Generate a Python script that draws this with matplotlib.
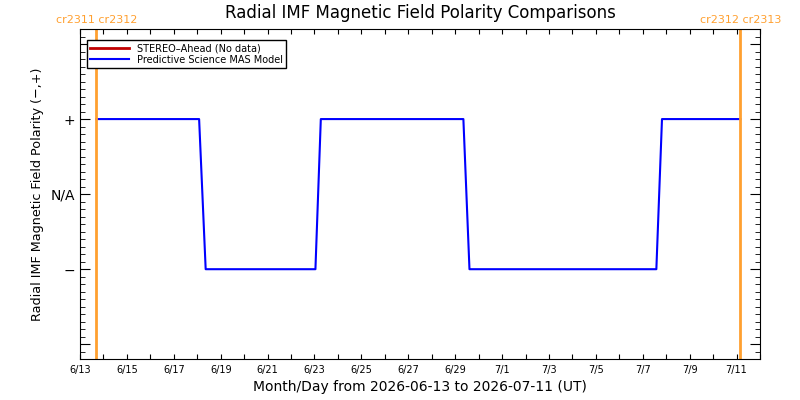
import numpy as np
import matplotlib
matplotlib.use('Agg')
import matplotlib.pyplot as plt
import matplotlib.dates as mdates
from datetime import datetime

# Predictive Science MAS model polarity (+1 / -1)
mas_times = ['2026-06-13 16:48', '2026-06-18 01:55', '2026-06-18 08:38',
             '2026-06-23 00:58', '2026-06-23 06:29', '2026-06-29 08:24',
             '2026-06-29 14:38', '2026-07-07 13:55', '2026-07-07 19:41',
             '2026-07-11 03:50']
mas_polarity = [1, 1, -1, -1, 1, 1, -1, -1, 1, 1]

# Carrington rotation boundaries
cr_times = ['2026-06-13 16:48', '2026-07-11 03:50']
cr_labels = ['cr2311 cr2312', 'cr2312 cr2313']

ytick_vals = [-2, -1, 0, 1, 2]
ytick_labels = ['', '\u2212', 'N/A', '+', '']

start = datetime(2026, 6, 13)
end = datetime(2026, 7, 12)

orange = '#FFA030'

def to_dt(s):
    return datetime.strptime(s, '%Y-%m-%d %H:%M')

fig = plt.figure(figsize=(8, 4), dpi=100)
ax = fig.add_axes([0.1, 0.1018, 0.85, 0.8257])

t = [to_dt(s) for s in mas_times]
ax.plot([], [], color='#C00000', lw=2, label='STEREO\u2013Ahead (No data)')
ax.plot(t, mas_polarity, color='blue', lw=1.5, label='Predictive Science MAS Model')

for s, lab in zip(cr_times, cr_labels):
    d = to_dt(s)
    ax.axvline(d, color=orange, lw=2)
    ax.text(d, 2.32, lab, color=orange, ha='center', va='center', fontsize=8)

ax.set_xlim(start, end)
ax.set_ylim(-2.2, 2.2)

ax.xaxis.set_major_locator(mdates.DayLocator())
ax.xaxis.set_major_formatter(plt.FuncFormatter(
    lambda v, p: (f"{mdates.num2date(v).month}/{mdates.num2date(v).day}"
                  if round(v - mdates.date2num(start)) % 2 == 0 else '')))
ax.set_yticks(ytick_vals)
ax.set_yticklabels(ytick_labels)
ax.yaxis.set_minor_locator(plt.MultipleLocator(0.1))

ax.tick_params(axis='x', which='both', direction='in', top=True, length=3.5,
               labelsize=7, pad=4)
ax.tick_params(axis='y', which='major', direction='in', right=True, length=7,
               labelsize=10)
ax.tick_params(axis='y', which='minor', direction='in', right=True, length=3.5)

ax.set_title('Radial IMF Magnetic Field Polarity Comparisons', fontsize=12, pad=8)
ax.set_xlabel('Month/Day from 2026-06-13 to 2026-07-11 (UT)', fontsize=10)
ax.set_ylabel('Radial IMF Magnetic Field Polarity (\u2212,+)', fontsize=9.2)
ax.yaxis.set_label_coords(-0.053, 0.5)

leg = ax.legend(loc='upper left', bbox_to_anchor=(0.0103, 0.9667), fontsize=7,
                fancybox=False, framealpha=1, edgecolor='black',
                borderaxespad=0, handlelength=4, borderpad=0.35,
                labelspacing=0.15, handletextpad=0.8)
leg.get_frame().set_linewidth(1)

fig.savefig('out.png', dpi=100)
